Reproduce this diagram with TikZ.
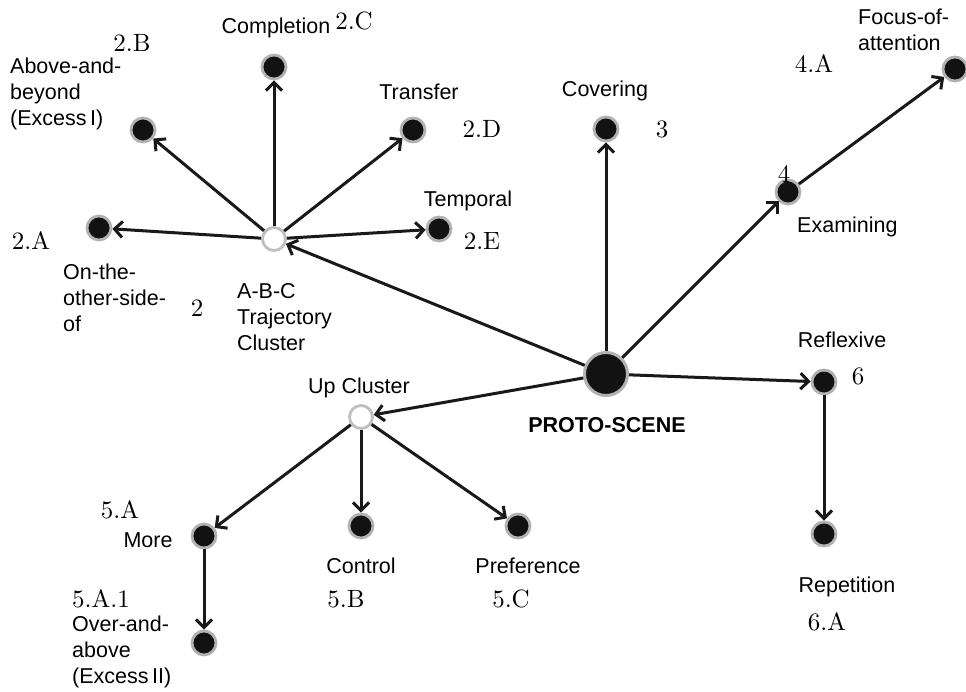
\documentclass[tikz,border=0pt]{standalone}
\usepackage{fontspec}
\newfontfamily\arial{Liberation Sans}
\newfontfamily\numfont{lmroman10-regular.otf}
\usetikzlibrary{arrows.meta}
\tikzset{
  lab/.style={font=\arial\fontsize{21.5}{26}\selectfont, inner sep=0pt},
  mlab/.style={lab, align=left, anchor=north west},
  num/.style={font=\numfont\fontsize{25}{28}\selectfont, inner sep=0pt, anchor=base},
  leaf/.style={circle, fill=black!93, draw=black!30, line width=2.8pt, minimum size=24pt, inner sep=0pt},
  hub/.style={circle, fill=white, draw=black!25, line width=2.8pt, minimum size=23pt, inner sep=0pt},
  proto/.style={circle, fill=black!93, draw=black!30, line width=3pt, minimum size=43pt, inner sep=0pt},
  arr/.style={line width=3pt, black!90, -{Straight Barb[length=8pt,width=16pt]}}
}
\begin{document}
\begin{tikzpicture}[x=1pt,y=-1pt]
\useasboundingbox (0,0) rectangle (966,692);
% nodes
\node[proto] (P) at (606,374) {};
\node[hub] (ABC) at (274,239) {};
\node[hub] (UP) at (361,417) {};
\node[leaf] (A2) at (99,228) {};
\node[leaf] (B2) at (143,130) {};
\node[leaf] (C2) at (274,67) {};
\node[leaf] (D2) at (413,130) {};
\node[leaf] (E2) at (439,229) {};
\node[leaf] (COV) at (606,129) {};
\node[leaf] (EX) at (788,192) {};
\node[leaf] (FOC) at (955,69) {};
\node[leaf] (REF) at (824,382) {};
\node[leaf] (REP) at (824,534) {};
\node[leaf] (MORE) at (204,536) {};
\node[leaf] (OVER) at (204,643) {};
\node[leaf] (CTL) at (361,526) {};
\node[leaf] (PREF) at (518,526) {};
% connectors
\draw[arr] (P) -- (ABC);
\draw[arr] (P) -- (UP);
\draw[arr] (P) -- (COV);
\draw[arr] (P) -- (EX);
\draw[arr] (P) -- (REF);
\draw[arr] (EX) -- (FOC);
\draw[arr] (REF) -- (REP);
\draw[arr] (ABC) -- (A2);
\draw[arr] (ABC) -- (B2);
\draw[arr] (ABC) -- (C2);
\draw[arr] (ABC) -- (D2);
\draw[arr] (ABC) -- (E2);
\draw[arr] (UP) -- (MORE);
\draw[arr] (UP) -- (CTL);
\draw[arr] (UP) -- (PREF);
\draw[arr] (MORE) -- (OVER);
% sans labels
\node[lab, anchor=base] (tC) at (276,34) {Completion};
\node[lab, anchor=base] (tD) at (419,100) {Transfer};
\node[lab, anchor=base] (tE) at (468,207) {Temporal};
\node[lab, anchor=base] (tCov) at (605,97) {Covering};
\node[lab, anchor=base west] (tEx) at (797,233) {Examining};
\node[lab, anchor=base] (tUp) at (359,393) {Up Cluster};
\node[lab, anchor=base, font=\arial\bfseries\fontsize{21.5}{26}\selectfont] (tP) at (607,432) {PROTO-SCENE};
\node[lab, anchor=base] (tRef) at (842,348) {Reflexive};
\node[lab, anchor=base] (tRep) at (847,592) {Repetition};
\node[lab, anchor=base] (tMore) at (148,547) {More};
\node[lab, anchor=base] (tCtl) at (361,573) {Control};
\node[lab, anchor=base] (tPref) at (528,573) {Preference};
\node[mlab] (tB) at (10,58) {Above-and-\\beyond\\(Excess\,I)};
\node[mlab] (tA) at (63,264) {On-the-\\other-side-\\of};
\node[mlab] (tABC) at (237,283) {A-B-C\\Trajectory\\Cluster};
\node[mlab] (tFoc) at (858,9) {Focus-of-\\attention};
\node[mlab] (tOver) at (72,616) {Over-and-\\above\\(Excess\,II)};
% numbers
\node[num] (n2C) at (354,30) {2.C};
\node[num] (n2B) at (132,52) {2.B};
\node[num] (n2D) at (482,138) {2.D};
\node[num] (n2E) at (482,250) {2.E};
\node[num] (n3) at (662,138) {3};
\node[num] (n4A) at (814,73) {4.A};
\node[num] (n4) at (784,183) {4};
\node[num] (n2A) at (31,250) {2.A};
\node[num] (n2) at (197,317) {2};
\node[num] (n6) at (858,384) {6};
\node[num] (n6A) at (827,630) {6.A};
\node[num] (n5A) at (120,518) {5.A};
\node[num, anchor=base west] (n5A1) at (72,607) {5.A.1};
\node[num] (n5B) at (346,607) {5.B};
\node[num] (n5C) at (511,607) {5.C};
\end{tikzpicture}
\end{document}
